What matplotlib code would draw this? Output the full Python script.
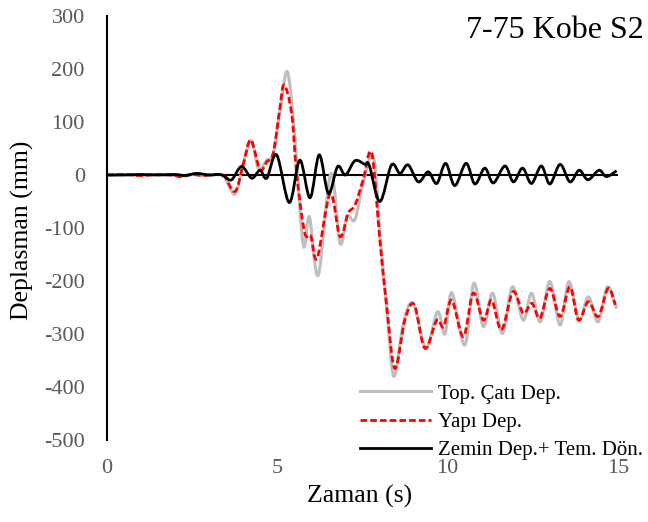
import numpy as np
import matplotlib
matplotlib.use("Agg")
import matplotlib.pyplot as plt
from matplotlib.path import Path
from matplotlib.patches import PathPatch
from matplotlib.lines import Line2D

plt.rcParams['font.family'] = ['Liberation Serif', 'DejaVu Serif']

# ---- data ----
title = "7-75 Kobe S2"
x_label = "Zaman (s)"
y_label = "Deplasman (mm)"
series_names = ["Top. Çatı Dep.", "Yapı Dep.", "Zemin Dep.+ Tem. Dön."]
x_ticks = [0, 5, 10, 15]
y_ticks = [-500, -400, -300, -200, -100, 0, 100, 200, 300]

top_t = [0, 0.5, 1.0, 1.5, 2.0, 2.14, 2.5, 2.8, 3.0, 3.3, 3.45, 3.76, 4.0, 4.23, 4.45, 4.69,
         4.88, 5.1, 5.3, 5.52, 5.76, 5.94, 6.2, 6.57, 6.84, 7.05, 7.28, 7.52, 7.82, 8.03, 8.22,
         8.42, 8.7, 8.99, 9.36, 9.7, 9.92, 10.12, 10.5, 10.77, 11.05, 11.32, 11.61, 11.9, 12.22,
         12.46, 12.72, 13.0, 13.3, 13.56, 13.86, 14.13, 14.42, 14.69, 14.96]
top_v = [0, 1, -1, 1, -1, -3, 1, -1, 0, 1, -3, -36, 22, 65, 12, 28,
         40, 130, 194, 66, -132, -79, -189, 3, -129, -78, -84, -15, 35, -125, -255,
         -380, -280, -242, -327, -258, -300, -222, -321, -204, -286, -223, -299, -211, -274,
         -223, -277, -201, -283, -201, -274, -230, -277, -211, -252]

yapi_t = [0, 0.5, 1.0, 1.5, 2.0, 2.14, 2.5, 2.8, 3.0, 3.3, 3.45, 3.76, 4.0, 4.22, 4.49, 4.69,
          4.88, 5.08, 5.2, 5.42, 5.57, 5.8, 5.98, 6.17, 6.55, 6.84, 7.08, 7.28, 7.52, 7.77, 8.01,
          8.21, 8.45, 8.75, 9.02, 9.33, 9.68, 9.88, 10.12, 10.46, 10.75, 11.05, 11.29, 11.58,
          11.92, 12.22, 12.47, 12.71, 13.0, 13.3, 13.59, 13.84, 14.13, 14.42, 14.71, 14.92]
yapi_v = [0, 1, -1, 1, -1, -3, 1, -1, 0, 1, -2, -31, 20, 66, 10, 25,
          41, 129, 170, 116, 0, -108, -115, -157, -35, -116, -72, -57, -9, 41, -123,
          -248, -365, -272, -245, -327, -274, -286, -236, -305, -223, -274, -236, -292,
          -220, -261, -242, -270, -214, -267, -211, -274, -239, -267, -214, -245]

zemin_t = [0, 0.5, 1.0, 1.5, 2.0, 2.3, 2.63, 3.0, 3.3, 3.46, 3.66, 3.95, 4.25, 4.49, 4.69, 4.98,
           5.35, 5.66, 5.96, 6.23, 6.5, 6.77, 7.0, 7.28, 7.57, 7.7, 8.01, 8.35, 8.6, 8.84, 9.14,
           9.43, 9.68, 9.94, 10.21, 10.54, 10.8, 11.09, 11.34, 11.68, 11.93, 12.2, 12.46, 12.75,
           13.0, 13.3, 13.59, 13.86, 14.12, 14.44, 14.66, 14.96]
zemin_v = [0, 0, 1, 0, 1, -1, 3, 0, 1, -3, -9, 16, -6, 9, -6, 38,
           -52, 28, -43, 38, -35, 16, 0, 27, 20, 18, -50, 19, 3, 19, -13,
           6, -16, 22, -20, 22, -17, 13, -15, 17, -13, 13, -16, 17,
           -17, 20, -13, 9, -9, 9, -3, 8]


def smooth_path(t, v):
    """Excel-style smoothed line (Catmull-Rom as cubic Bezier through the points)."""
    pts = np.column_stack([t, v]).astype(float)
    n = len(pts)
    verts = [pts[0]]
    codes = [Path.MOVETO]
    for i in range(n - 1):
        p0 = pts[max(i - 1, 0)]
        p1 = pts[i]
        p2 = pts[i + 1]
        p3 = pts[min(i + 2, n - 1)]
        verts += [p1 + (p2 - p0) / 6.0, p2 - (p3 - p1) / 6.0, p2]
        codes += [Path.CURVE4] * 3
    return Path(verts, codes)


fig = plt.figure(figsize=(6.48, 5.22), dpi=100)
ax = fig.add_axes([107 / 648, 1 - 440 / 522, 511 / 648, 424 / 522])

ax.set_xlim(0, 15)
ax.set_ylim(-500, 300)

styles = [
    dict(color="#BFBFBF", lw=2.25, ls="-"),
    dict(color="#FF0000", lw=2.0, ls=(0, (2.4, 1.1))),
    dict(color="#000000", lw=2.0, ls="-"),
]
data = [(top_t, top_v), (yapi_t, yapi_v), (zemin_t, zemin_v)]

ax.axhline(0, color="black", lw=1.5, zorder=1)

handles = []
for (t, v), st, name, z in zip(data, styles, series_names, [2, 3, 4]):
    patch = PathPatch(smooth_path(t, v), fill=False, edgecolor=st["color"],
                      lw=st["lw"], ls=st["ls"], capstyle="butt", joinstyle="round",
                      zorder=z, transform=ax.transData)
    ax.add_patch(patch)
    handles.append(Line2D([], [], color=st["color"], lw=st["lw"], ls=st["ls"]))

for s in ["top", "right", "bottom"]:
    ax.spines[s].set_visible(False)
ax.spines["left"].set_linewidth(1.5)
ax.spines["left"].set_color("black")

ax.set_xticks(x_ticks)
ax.set_yticks(y_ticks)
ax.set_xticklabels([str(x) for x in x_ticks])
ax.set_yticklabels([str(y) for y in y_ticks])
ax.tick_params(axis="both", length=0, labelsize=16, labelcolor="#595959")
ax.tick_params(axis="y", pad=16)
ax.tick_params(axis="x", pad=14)

fig.text(360 / 648, 1 - 496 / 522, x_label, fontsize=18.5, ha="center", va="center")
fig.text(22 / 648, 1 - 230 / 522, y_label, fontsize=18.5, ha="center", va="center", rotation=90)
fig.text(644 / 648, 1 - 30 / 522, title, fontsize=23, ha="right", va="center")

leg = ax.legend(handles, series_names, loc="upper left",
                bbox_to_anchor=((360 - 107) / 511, (440 - 384) / 424),
                frameon=False, fontsize=15, handlelength=3.4, handletextpad=0.35,
                labelspacing=0.42, borderpad=0, borderaxespad=0)

fig.savefig("out.png", dpi=100)
